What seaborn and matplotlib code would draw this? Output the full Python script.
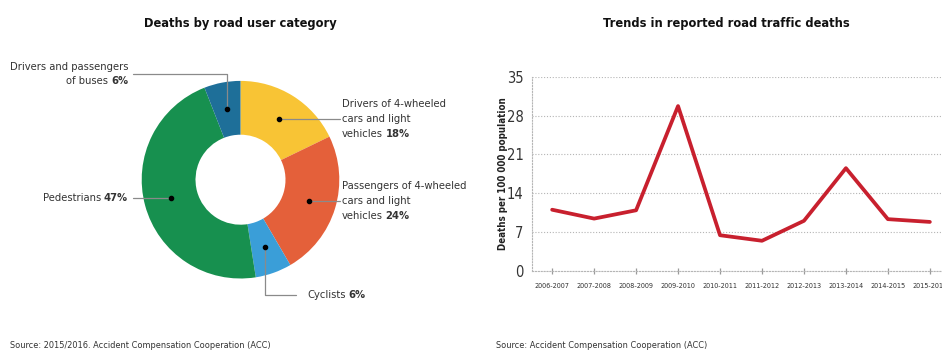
import matplotlib
matplotlib.use("Agg")
import matplotlib.pyplot as plt
import matplotlib.transforms as mtransforms
import numpy as np
import pandas as pd
import seaborn as sns

# ---------------- data ----------------
pie_labels = ["Drivers of 4-wheeled cars and light vehicles",
              "Passengers of 4-wheeled cars and light vehicles",
              "Cyclists", "Pedestrians", "Drivers and passengers of buses"]
pie_values = [18, 24, 6, 47, 6]
pie_colors = ["#F8C435", "#E4603A", "#3A9ED8", "#17904F", "#1E6F99"]

years = ["2006-2007", "2007-2008", "2008-2009", "2009-2010", "2010-2011",
         "2011-2012", "2012-2013", "2013-2014", "2014-2015", "2015-2016"]
deaths = [11.0, 9.4, 10.9, 29.7, 6.4, 5.4, 9.0, 18.5, 9.3, 8.8]
y_ticks = [0, 7, 14, 21, 28, 35]

# ---------------- style ----------------
sns.set_theme(style="white")
plt.rcParams["font.family"] = ["Liberation Sans Narrow", "DejaVu Sans"]
plt.rcParams["font.stretch"] = "condensed"

W, H = 942, 351
fig = plt.figure(figsize=(W / 100, H / 100), dpi=100)
ID = mtransforms.IdentityTransform()
TXT = "#333333"
LEAD = "#8a8a8a"
LBL = 8.0


def P(x, y):
    """pixel coords measured from top-left -> display coords"""
    return x, H - y


renderer = fig.canvas.get_renderer()


def seg_line(x, y, parts, ha="left", size=LBL):
    """draw one line of mixed regular/bold text in pixel coords"""
    xd, yd = P(x, y)
    gap = 2.6
    if ha == "left":
        cur = xd
        for s, w in parts:
            t = fig.text(cur, yd, s, transform=ID, ha="left", va="center",
                         fontsize=size, fontweight=w, color=TXT)
            bb = t.get_window_extent(renderer)
            cur += bb.width + gap
    else:
        cur = xd
        for s, w in reversed(parts):
            t = fig.text(cur, yd, s, transform=ID, ha="right", va="center",
                         fontsize=size, fontweight=w, color=TXT)
            bb = t.get_window_extent(renderer)
            cur -= bb.width + gap


# ---------------- donut ----------------
cx, cy, R = 240.5, 179.7, 98.8
ax1 = fig.add_axes([(cx - R) / W, (H - cy - R) / H, 2 * R / W, 2 * R / H])
ring = 1 - 45.0 / R
wedges, _ = ax1.pie(pie_values, colors=pie_colors, startangle=90,
                    counterclock=False, radius=1,
                    wedgeprops=dict(width=ring, linewidth=0))
ax1.set_xlim(-1, 1)
ax1.set_ylim(-1, 1)
ax1.set_aspect("equal")
ax1.axis("off")

rmid = 1 - ring / 2
dots = []
for wdg in wedges:
    a = np.deg2rad((wdg.theta1 + wdg.theta2) / 2)
    dx, dy = ax1.transData.transform((rmid * np.cos(a), rmid * np.sin(a)))
    dots.append((dx, H - dy))  # pixel coords from top


def lead(pts):
    xs = [p[0] for p in pts]
    ys = [H - p[1] for p in pts]
    fig.add_artist(plt.Line2D(xs, ys, transform=ID, color=LEAD, lw=0.9))


def dot(p):
    fig.add_artist(plt.Line2D([p[0]], [H - p[1]], transform=ID, marker="o",
                              ms=3, color="black", lw=0))


d_yel, d_ora, d_cyc, d_ped, d_bus = dots
lx = 342
# Drivers of 4-wheeled
lead([d_yel, (lx - 2, d_yel[1])])
seg_line(lx, d_yel[1] - 15, [("Drivers of 4-wheeled", "normal")])
seg_line(lx, d_yel[1], [("cars and light", "normal")])
seg_line(lx, d_yel[1] + 15, [("vehicles", "normal"), ("18%", "bold")])
# Passengers
lead([d_ora, (lx - 2, d_ora[1])])
seg_line(lx, d_ora[1] - 15, [("Passengers of 4-wheeled", "normal")])
seg_line(lx, d_ora[1], [("cars and light", "normal")])
seg_line(lx, d_ora[1] + 15, [("vehicles", "normal"), ("24%", "bold")])
# Cyclists
lead([d_cyc, (d_cyc[0], 295), (296, 295)])
seg_line(307, 295, [("Cyclists", "normal"), ("6%", "bold")])
# Pedestrians
lead([d_ped, (133, d_ped[1])])
seg_line(128, d_ped[1], [("Pedestrians", "normal"), ("47%", "bold")], ha="right")
# Buses
lead([d_bus, (d_bus[0], 74), (133, 74)])
seg_line(128, 67, [("Drivers and passengers", "normal")], ha="right")
seg_line(128, 81, [("of buses", "normal"), ("6%", "bold")], ha="right")
for d in dots:
    dot(d)

fig.text(*P(240, 24), "Deaths by road user category", transform=ID,
         ha="center", va="center", fontsize=9.2, fontweight="bold", color="#111111")
fig.text(*P(10, 346), "Source: 2015/2016. Accident Compensation Cooperation (ACC)",
         transform=ID, ha="left", va="center", fontsize=6.6, color=TXT)

# ---------------- line chart ----------------
x0, x1 = 532, 950
yb, yt = 270.7, 76.7
ax2 = fig.add_axes([x0 / W, (H - yb) / H, (x1 - x0) / W, (yb - yt) / H])
df = pd.DataFrame({"year": years, "deaths": deaths})
sns.lineplot(data=df, x="year", y="deaths", ax=ax2, color="#C8202E",
             lw=2.7, sort=False)
ax2.set_xlim(-0.48, 9.48)
ax2.set_ylim(0, 35)
ax2.set_yticks(y_ticks)
ax2.set_yticklabels([str(v) for v in y_ticks], fontsize=10.5, color="#333333")
ax2.set_xticks(range(len(years)))
ax2.set_xticklabels(years, fontsize=5.2, color="#333333")
ax2.set_xlabel("")
ax2.set_ylabel("Deaths per 100 000 population", fontsize=7.0, fontweight="bold",
               color="#222222")
ax2.yaxis.set_label_coords(-0.058, 0.5)
dotted = (0, (1, 1.6))
ax2.yaxis.grid(True, linestyle=dotted, color="#b5b5b5", lw=0.8)
ax2.xaxis.grid(False)
for s in ["top", "right"]:
    ax2.spines[s].set_visible(False)
for s in ["left", "bottom"]:
    ax2.spines[s].set_linestyle(dotted)
    ax2.spines[s].set_color("#b5b5b5")
    ax2.spines[s].set_linewidth(0.8)
ax2.tick_params(axis="x", direction="inout", length=5, width=0.9,
                color="#9a9a9a", pad=6, bottom=True)
ax2.tick_params(axis="y", length=0, pad=6)
ax2.set_facecolor("white")

fig.text(*P(726, 24), "Trends in reported road traffic deaths", transform=ID,
         ha="center", va="center", fontsize=9.2, fontweight="bold", color="#111111")
fig.text(*P(496, 346), "Source: Accident Compensation Cooperation (ACC)",
         transform=ID, ha="left", va="center", fontsize=6.6, color=TXT)

fig.savefig("out.png", dpi=100)
